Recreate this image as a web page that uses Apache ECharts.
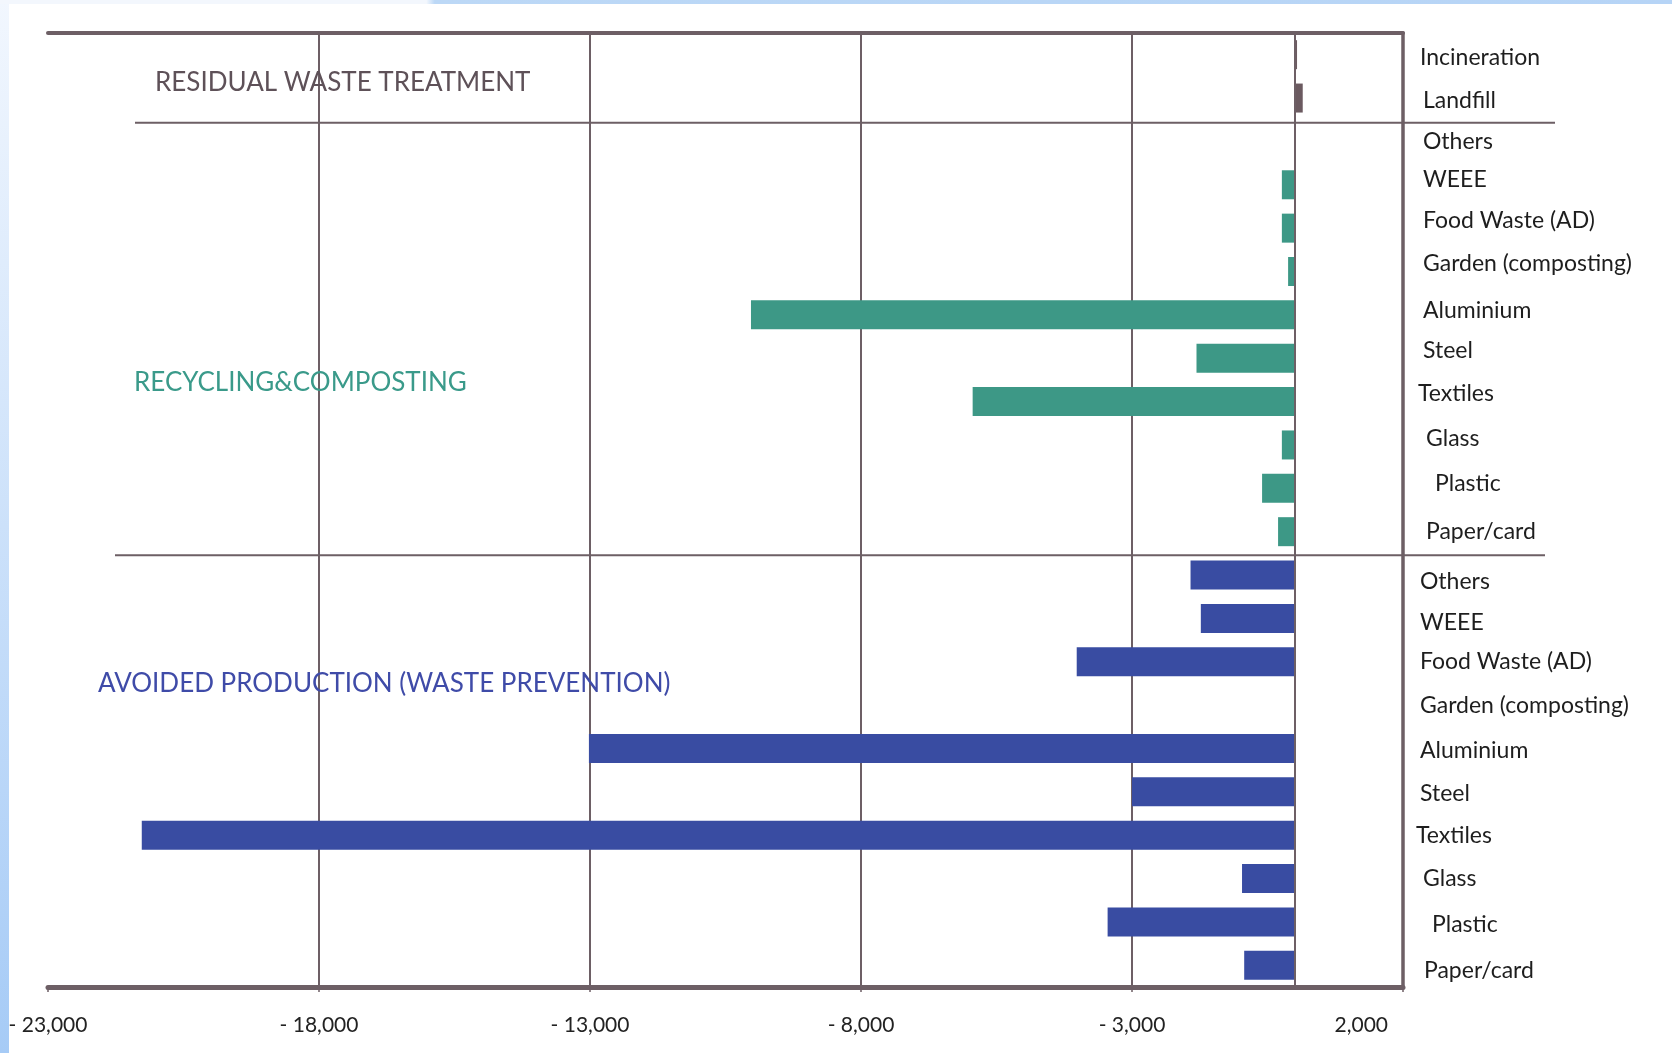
<!DOCTYPE html>
<html><head><meta charset="utf-8">
<script src="https://cdn.jsdelivr.net/npm/echarts@6/dist/echarts.min.js"></script>
<style>html,body{margin:0;padding:0;background:#fff}#c{width:1672px;height:1053px}</style>
</head><body><div id="c"></div>
<script>
// ---- data ----
const residualCats = ['Incineration', 'Landfill'];
const recyclingCats = ['Others', 'WEEE', 'Food Waste (AD)', 'Garden (composting)', 'Aluminium', 'Steel', 'Textiles', 'Glass', 'Plastic', 'Paper/card'];
const avoidedCats = ['Others', 'WEEE', 'Food Waste (AD)', 'Garden (composting)', 'Aluminium', 'Steel', 'Textiles', 'Glass', 'Plastic', 'Paper/card'];
const residualValues = [45, 150];
const recyclingValues = [0, -235, -235, -120, -10030, -1810, -5940, -235, -600, -305];
const avoidedValues = [-1920, -1730, -4020, 0, -13020, -3000, -21270, -970, -3450, -930];
const xTickValues = [-23000, -18000, -13000, -8000, -3000, 2000];
const xTickLabels = ['- 23,000', '- 18,000', '- 13,000', '- 8,000', '- 3,000', '2,000'];
const groupTitles = ['RESIDUAL WASTE TREATMENT', 'RECYCLING&COMPOSTING', 'AVOIDED PRODUCTION (WASTE PREVENTION)'];

// ---- styles (label nudges, px) ----
const LINE = '#6d5f65';
const FONT = 'Lato';
const labelIndent = [4, 7, 7, 7, 7, 7, 7, 7, 2, 10, 19, 10, 4, 4, 4, 4, 4, 4, 0, 7, 16, 8];
const labelShift = [2, 2, 0, -5, -7, -7, -4, -7, -8, -6, -4, 0, 6, 4, 0, 0, 2, 1, 0, 0, 2, 5];

const categories = residualCats.concat(recyclingCats, avoidedCats);
const nR = residualCats.length, nC = recyclingCats.length, nA = avoidedCats.length;
const blank = n => new Array(n).fill('-');
const resData = residualValues.concat(blank(nC + nA));
const recData = blank(nR).concat(recyclingValues, blank(nA));
const avoData = blank(nR + nC).concat(avoidedValues);

const chart = echarts.init(document.getElementById('c'));
const xMin = xTickValues[0], xMax = xTickValues[xTickValues.length - 1];
const xInterval = xTickValues[1] - xTickValues[0];

const BASE_LH = 24;
const labelRich = {};
categories.forEach((c, i) => {
  const s = labelShift[i];
  labelRich['l' + i] = {
    fontSize: 23, fontFamily: FONT, color: '#1e1e1e',
    lineHeight: BASE_LH + 2 * Math.abs(s),
    verticalAlign: s < 0 ? 'top' : (s > 0 ? 'bottom' : 'middle'),
    padding: [0, 0, 0, labelIndent[i]]
  };
});

const option = {
  animation: false,
  backgroundColor: '#ffffff',
  grid: { left: 48, right: 269, top: 33, bottom: 66, containLabel: false },
  xAxis: [{
    type: 'value', position: 'bottom', min: xMin, max: xMax, interval: xInterval,
    axisLine: { show: true, onZero: false, lineStyle: { color: LINE, width: 5 } },
    axisTick: { show: true, length: 5, lineStyle: { color: LINE, width: 1.5 } },
    axisLabel: {
      margin: 28, fontSize: 21, color: '#222', fontFamily: FONT,
      alignMaxLabel: 'right',
      formatter: v => {
        const i = xTickValues.indexOf(v);
        if (i < 0) return '';
        return i === xTickValues.length - 1 ? '{r|' + xTickLabels[i] + '}' : xTickLabels[i];
      },
      rich: { r: { padding: [0, 15, 0, 0], fontSize: 21, color: '#222', fontFamily: FONT } }
    },
    splitLine: { show: true, showMinLine: false, showMaxLine: false, lineStyle: { color: LINE, width: 2 } }
  }, {
    type: 'value', position: 'top', min: xMin, max: xMax, interval: xInterval,
    axisLine: { show: true, onZero: false, lineStyle: { color: LINE, width: 4 } },
    axisTick: { show: false }, axisLabel: { show: false }, splitLine: { show: false }
  }],
  yAxis: {
    type: 'category', position: 'right', inverse: true,
    data: categories,
    axisLine: { show: true, onZero: false, lineStyle: { color: LINE, width: 3.5 } },
    axisTick: { show: false },
    axisLabel: {
      interval: 0, margin: 13, fontSize: 23, color: '#1e1e1e', fontFamily: FONT, align: 'left', verticalAlign: 'middle',
      formatter: (v, i) => '{l' + i + '|' + v + '}',
      rich: labelRich
    },
    splitLine: { show: false }
  },
  series: [
    { name: 'Residual', type: 'bar', data: resData, barWidth: 29, barGap: '-100%', itemStyle: { color: '#6b5a60' },
      markLine: { silent: true, symbol: 'none', label: { show: false }, lineStyle: { color: LINE, width: 2, type: 'solid' }, data: [{ xAxis: 0 }] } },
    { name: 'Recycling', type: 'bar', data: recData, barWidth: 29, barGap: '-100%', itemStyle: { color: '#3d9886' } },
    { name: 'Avoided', type: 'bar', data: avoData, barWidth: 29, barGap: '-100%', itemStyle: { color: '#394ca2' } }
  ]
};
chart.setOption(option);

// separators & group titles, positioned from the category scale
const yc = i => chart.convertToPixel({ yAxisIndex: 0 }, i);
const sep1 = (yc(nR - 1) + yc(nR)) / 2 + 3;
const sep2 = (yc(nR + nC - 1) + yc(nR + nC)) / 2 + 2;
chart.setOption({
  graphic: [
    { type: 'rect', z: -10, shape: { x: 0, y: 0, width: 9, height: 1053 },
      style: { fill: new echarts.graphic.LinearGradient(0, 0, 0, 1, [{ offset: 0, color: '#f2f7fe' }, { offset: 1, color: '#a6cbf6' }]) } },
    { type: 'rect', z: -10, shape: { x: 0, y: 0, width: 1672, height: 4 },
      style: { fill: new echarts.graphic.LinearGradient(0, 0, 1, 0, [{ offset: 0, color: '#f3f7fd' }, { offset: 0.255, color: '#f3f7fd' }, { offset: 0.26, color: '#bcd8f6' }, { offset: 1, color: '#b6d4f6' }]) } },
    { type: 'line', z: 10, shape: { x1: 135, y1: sep1, x2: 1555, y2: sep1 }, style: { stroke: LINE, lineWidth: 2 } },
    { type: 'line', z: 10, shape: { x1: 115, y1: sep2, x2: 1545, y2: sep2 }, style: { stroke: LINE, lineWidth: 2 } },
    { type: 'text', z: 20, left: 155, top: 70, style: { text: groupTitles[0], fill: '#5e5158', font: '26px ' + FONT } },
    { type: 'text', z: 20, left: 134, top: 370, style: { text: groupTitles[1], fill: '#3a9a8a', font: '26px ' + FONT } },
    { type: 'text', z: 20, left: 98, top: 671, style: { text: groupTitles[2], fill: '#3f4ba8', font: '26px ' + FONT } }
  ]
});
</script></body></html>
